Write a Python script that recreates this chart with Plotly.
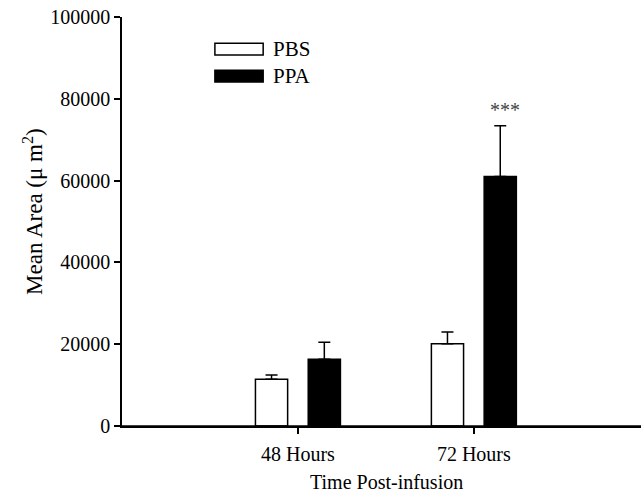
import plotly.graph_objects as go

categories = ["48 Hours", "72 Hours"]
pbs_mean = [11400, 20100]
pbs_err = [1100, 2900]
ppa_mean = [16300, 61000]
ppa_err = [4200, 12400]
y_ticks = [0, 20000, 40000, 60000, 80000, 100000]

FONT = "Liberation Serif, Times New Roman, serif"

fig = go.Figure()
fig.add_trace(go.Bar(
    name="PBS", x=categories, y=pbs_mean,
    marker=dict(color="white", line=dict(color="black", width=1.5)),
    error_y=dict(type="data", array=pbs_err, arrayminus=[0, 0], symmetric=False,
                 color="black", thickness=1.5, width=6),
))
fig.add_trace(go.Bar(
    name="PPA", x=categories, y=ppa_mean,
    marker=dict(color="black", line=dict(color="black", width=1.5)),
    error_y=dict(type="data", array=ppa_err, arrayminus=[0, 0], symmetric=False,
                 color="black", thickness=1.5, width=6),
))

# significance marker
fig.add_annotation(x=categories[1], y=ppa_mean[1] + ppa_err[1], xshift=31, yshift=16,
                   text="***", showarrow=False, font=dict(family=FONT, size=20, color="#444"))

# custom legend
fig.add_shape(type="rect", xref="paper", yref="paper", x0=0.179, x1=0.272, y0=0.907, y1=0.936,
              line=dict(color="black", width=1.5), fillcolor="white")
fig.add_shape(type="rect", xref="paper", yref="paper", x0=0.179, x1=0.272, y0=0.841, y1=0.870,
              line=dict(color="black", width=1.5), fillcolor="black")
fig.add_annotation(xref="paper", yref="paper", x=0.288, y=0.922, text="PBS", showarrow=False,
                   xanchor="left", yanchor="middle", font=dict(family=FONT, size=21, color="black"))
fig.add_annotation(xref="paper", yref="paper", x=0.288, y=0.856, text="PPA", showarrow=False,
                   xanchor="left", yanchor="middle", font=dict(family=FONT, size=21, color="black"))

# baseline extended to the right edge of the figure
fig.add_shape(type="line", xref="paper", yref="paper", x0=0, x1=1.2, y0=0, y1=0,
              line=dict(color="black", width=1.5), layer="above")

# axis titles
fig.add_annotation(xref="paper", yref="paper", x=-0.171, y=0.524, text="Mean Area (μ m<sup>2</sup>)",
                   textangle=-90, showarrow=False, xanchor="center", yanchor="middle",
                   font=dict(family=FONT, size=23, color="black"))
fig.add_annotation(xref="paper", yref="paper", x=0.509, y=-0.137, text="Time Post-infusion",
                   showarrow=False, xanchor="center", yanchor="middle",
                   font=dict(family=FONT, size=20, color="black"))

fig.update_layout(
    width=641, height=497,
    margin=dict(l=122, r=0, t=17, b=71, autoexpand=False),
    paper_bgcolor="white", plot_bgcolor="white",
    barmode="group", bargap=0.4, bargroupgap=0.39,
    showlegend=False,
    font=dict(family=FONT, size=20, color="black"),
)
fig.update_xaxes(
    range=[-1, 1.95], showline=True, linecolor="black", linewidth=1.5,
    ticks="outside", ticklen=6, tickcolor="black", tickwidth=1.5,
    ticklabelstandoff=3, automargin=False,
    tickfont=dict(family=FONT, size=20), showgrid=False, zeroline=False,
)
fig.update_yaxes(
    range=[0, 100000], tickvals=y_ticks, ticktext=[str(v) for v in y_ticks],
    showline=True, linecolor="black", linewidth=1.5,
    ticks="outside", ticklen=6, tickcolor="black", tickwidth=1.5, automargin=False,
    tickfont=dict(family=FONT, size=20), showgrid=False, zeroline=False,
)

fig.write_html("out.html", config={"displayModeBar": False},
               post_script="document.body.style.margin='0';document.body.style.overflow='hidden';")
